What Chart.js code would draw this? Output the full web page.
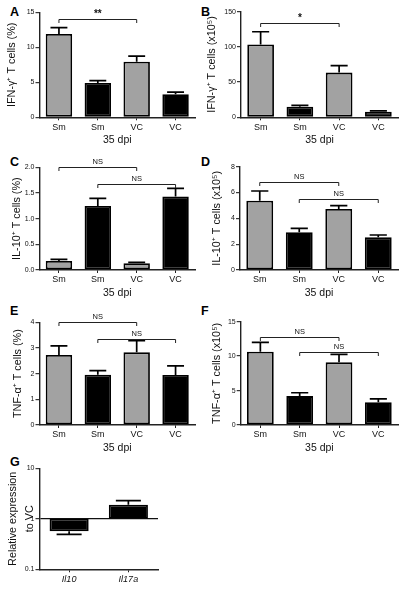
<!DOCTYPE html>
<html>
<head>
<meta charset="utf-8">
<script src="https://cdn.jsdelivr.net/npm/chart.js@4.4.0/dist/chart.umd.min.js"></script>
<style>
    body { margin: 0; background: #fff; width: 405px; height: 592px; position: relative; overflow: hidden; font-family: 'Liberation Sans', Arial, sans-serif; }
    canvas { position: absolute; }
    .letra { position: absolute; font-weight: bold; font-size: 12.5px; line-height: 12px; color: #000; }
</style>
</head>
<body>
<div class="letra" style="left:10px;top:6px">A</div>
<div class="letra" style="left:201px;top:6px">B</div>
<div class="letra" style="left:10px;top:156px">C</div>
<div class="letra" style="left:201px;top:156px">D</div>
<div class="letra" style="left:10px;top:305px">E</div>
<div class="letra" style="left:201px;top:305px">F</div>
<div class="letra" style="left:10px;top:456px">G</div>

<canvas id="chartA" width="200" height="152" style="left:0;top:0"></canvas>
<canvas id="chartB" width="205" height="152" style="left:200px;top:0"></canvas>
<canvas id="chartC" width="200" height="152" style="left:0;top:155px"></canvas>
<canvas id="chartD" width="205" height="152" style="left:200px;top:155px"></canvas>
<canvas id="chartE" width="200" height="152" style="left:0;top:310px"></canvas>
<canvas id="chartF" width="205" height="152" style="left:200px;top:310px"></canvas>
<canvas id="chartG" width="200" height="137" style="left:0;top:455px"></canvas>

<script>
// dados
const grupos = ['Sm', 'Sm', 'VC', 'VC'];

const ifnPct = [11.9, 4.9, 7.95, 3.3];
const ifnPctErr = [0.9, 0.35, 0.8, 0.3];
const ifnPctTicks = [0, 5, 10, 15];
const ifnPctChaves = [[0, 2, 14.05, '**']];

const ifnNum = [103.5, 15, 63.5, 8];
const ifnNumErr = [18, 2, 10, 1];
const ifnNumTicks = [0, 50, 100, 150];
const ifnNumChaves = [[0, 2, 134.4, '*']];

const il10Pct = [0.175, 1.245, 0.13, 1.43];
const il10PctErr = [0.03, 0.15, 0.02, 0.16];
const il10PctTicks = [0, 0.5, 1.0, 1.5, 2.0];
const il10PctChaves = [[0, 2, 2.0, 'NS'], [1, 3, 1.675, 'NS']];

const il10Num = [5.37, 2.92, 4.72, 2.53];
const il10NumErr = [0.75, 0.3, 0.26, 0.18];
const il10NumTicks = [0, 2, 4, 6, 8];
const il10NumChaves = [[0, 2, 6.84, 'NS'], [1, 3, 5.47, 'NS']];

const tnfPct = [2.73, 1.96, 2.83, 1.95];
const tnfPctErr = [0.35, 0.16, 0.46, 0.35];
const tnfPctTicks = [0, 1, 2, 3, 4];
const tnfPctChaves = [[0, 2, 4.0, 'NS'], [1, 3, 3.35, 'NS']];

const tnfNum = [10.65, 4.2, 9.1, 3.3];
const tnfNumErr = [1.35, 0.48, 1.15, 0.5];
const tnfNumTicks = [0, 5, 10, 15];
const tnfNumChaves = [[0, 2, 12.8, 'NS'], [1, 3, 10.55, 'NS']];

const genes = ['Il10', 'Il17a'];
const relExpr = [0.57, 1.9];
const relExprErr = [0.08, 0.4];
const relExprTicks = [0.1, 1, 10];

const cinza = '#a2a2a2';
const coresBarras = [cinza, '#000', cinza, '#000'];
const FONTE = "'Liberation Sans', Arial, sans-serif";

Chart.defaults.font.family = FONTE;
Chart.defaults.color = '#111';

// barras de erro e chaves de significancia
const extras = {
    id: 'extras',
    afterDatasetsDraw(chart, args, opts) {
        const ctx = chart.ctx;
        const meta = chart.getDatasetMeta(0);
        const y = chart.scales.y;
        const valores = chart.data.datasets[0].data;
        ctx.save();
        ctx.strokeStyle = '#000';
        ctx.lineWidth = 1.7;
        meta.data.forEach((bar, i) => {
            const erro = opts.erros ? opts.erros[i] : 0;
            if (!erro) return;
            let v = valores[i];
            let base = 0;
            if (Array.isArray(v)) { base = v[0]; v = v[1]; }
            const fim = v >= base ? v + erro : v - erro;
            const yv = y.getPixelForValue(v);
            const yf = y.getPixelForValue(fim);
            const meia = bar.width * 0.32;
            ctx.beginPath();
            ctx.moveTo(bar.x, yv);
            ctx.lineTo(bar.x, yf);
            ctx.moveTo(bar.x - meia, yf);
            ctx.lineTo(bar.x + meia, yf);
            ctx.stroke();
        });

        ctx.lineWidth = 1;
        ctx.strokeStyle = '#222';
        ctx.fillStyle = '#111';
        ctx.textAlign = 'center';
        ctx.textBaseline = 'bottom';
        (opts.chaves || []).forEach(([de, ate, valor, texto]) => {
            const x1 = meta.data[de].x;
            const x2 = meta.data[ate].x;
            const yy = Math.round(y.getPixelForValue(valor)) + 0.5;
            ctx.beginPath();
            ctx.moveTo(x1, yy + 3.5);
            ctx.lineTo(x1, yy);
            ctx.lineTo(x2, yy);
            ctx.lineTo(x2, yy + 3.5);
            ctx.stroke();
            ctx.font = (texto === 'NS' ? '7.5px ' : 'bold 10px ') + FONTE;
            ctx.fillText(texto, (x1 + x2) / 2, yy - (texto === 'NS' ? 1.5 : 0));
        });
        ctx.restore();
    }
};

function criarGrafico(id, box, area, cfg) {
    const yLarg = area.l - box.x;
    const xAlt = box.y + box.h - area.b;
    const t = cfg.ticks;
    return new Chart(document.getElementById(id), {
        type: 'bar',
        data: {
            labels: cfg.labels,
            datasets: [{
                data: cfg.valores,
                backgroundColor: cfg.cores,
                borderColor: '#000',
                borderWidth: 1.8,
                borderSkipped: false,
                categoryPercentage: cfg.largura,
                barPercentage: 1
            }]
        },
        options: {
            responsive: false,
            animation: false,
            layout: { padding: { left: 0, top: area.t - box.y, right: box.x + box.w - area.r, bottom: 0 } },
            plugins: {
                legend: { display: false },
                tooltip: { enabled: false },
                extras: { erros: cfg.erros, chaves: cfg.chaves }
            },
            scales: {
                x: {
                    grid: { offset: false, drawOnChartArea: false, color: '#222', tickLength: 3 },
                    border: { color: '#222', width: 1.4 },
                    ticks: { font: { size: 9, style: cfg.italico ? 'italic' : 'normal' }, padding: 1.5, maxRotation: 0, autoSkip: false },
                    title: {
                        display: !!cfg.tituloX,
                        text: cfg.tituloX || '',
                        font: { size: 10.5 },
                        padding: { top: 0, bottom: Math.max(xAlt - 29.3, 0) }
                    },
                    afterFit: s => { s.height = xAlt; }
                },
                y: {
                    type: cfg.log ? 'logarithmic' : 'linear',
                    min: t[0],
                    max: t[t.length - 1],
                    afterBuildTicks: s => { s.ticks = t.map(v => ({ value: v })); },
                    grid: {
                        drawOnChartArea: !!cfg.log,
                        color: c => (cfg.log && c.tick && c.tick.value === 1) ? '#111' : 'rgba(0,0,0,0)',
                        lineWidth: 1.3,
                        tickColor: '#222',
                        tickWidth: 1.1,
                        tickLength: 4
                    },
                    border: { color: '#222', width: 1.4 },
                    ticks: { font: { size: 7 }, padding: 1, callback: cfg.fmt || (v => String(v)) },
                    title: {
                        display: true,
                        text: cfg.tituloY,
                        font: { size: 10.8, lineHeight: cfg.alturaLinha || 1.2 },
                        padding: { top: cfg.tituloYx - (cfg.alturaLinha || 1.2) * 10.8 / 2, bottom: 0 }
                    },
                    afterFit: s => { s.width = yLarg; }
                }
            }
        },
        plugins: [extras]
    });
}

criarGrafico('chartA', { x: 0, y: 0, w: 200, h: 152 }, { l: 39.5, r: 195, t: 12.3, b: 117.3 }, {
    labels: grupos, valores: ifnPct, erros: ifnPctErr, ticks: ifnPctTicks, chaves: ifnPctChaves,
    cores: coresBarras, largura: 0.68, tituloX: '35 dpi', tituloY: 'IFN-γ⁺ T cells (%)', tituloYx: 12.5
});
criarGrafico('chartB', { x: 200, y: 0, w: 205, h: 152 }, { l: 241, r: 398, t: 11.7, b: 117.3 }, {
    labels: grupos, valores: ifnNum, erros: ifnNumErr, ticks: ifnNumTicks, chaves: ifnNumChaves,
    cores: coresBarras, largura: 0.68, tituloX: '35 dpi', tituloY: 'IFN-γ⁺ T cells (x10⁵)', tituloYx: 12.5
});
criarGrafico('chartC', { x: 0, y: 155, w: 200, h: 152 }, { l: 39.5, r: 195, t: 167.3, b: 270 }, {
    labels: grupos, valores: il10Pct, erros: il10PctErr, ticks: il10PctTicks, chaves: il10PctChaves,
    cores: coresBarras, largura: 0.68, tituloX: '35 dpi', tituloY: 'IL-10⁺ T cells (%)', tituloYx: 17.5,
    fmt: v => v.toFixed(1)
});
criarGrafico('chartD', { x: 200, y: 155, w: 205, h: 152 }, { l: 240, r: 398, t: 166.7, b: 270 }, {
    labels: grupos, valores: il10Num, erros: il10NumErr, ticks: il10NumTicks, chaves: il10NumChaves,
    cores: coresBarras, largura: 0.68, tituloX: '35 dpi', tituloY: 'IL-10⁺ T cells (x10⁵)', tituloYx: 17.5
});
criarGrafico('chartE', { x: 0, y: 310, w: 200, h: 152 }, { l: 39.5, r: 195, t: 322.3, b: 425 }, {
    labels: grupos, valores: tnfPct, erros: tnfPctErr, ticks: tnfPctTicks, chaves: tnfPctChaves,
    cores: coresBarras, largura: 0.68, tituloX: '35 dpi', tituloY: 'TNF-α⁺ T cells (%)', tituloYx: 18
});
criarGrafico('chartF', { x: 200, y: 310, w: 205, h: 152 }, { l: 240.7, r: 398, t: 321.7, b: 425 }, {
    labels: grupos, valores: tnfNum, erros: tnfNumErr, ticks: tnfNumTicks, chaves: tnfNumChaves,
    cores: coresBarras, largura: 0.68, tituloX: '35 dpi', tituloY: 'TNF-α⁺ T cells (x10⁵)', tituloYx: 17.5
});
criarGrafico('chartG', { x: 0, y: 455, w: 200, h: 137 }, { l: 39.5, r: 158, t: 468.3, b: 569.3 }, {
    labels: genes, valores: relExpr.map(v => [1, v]), erros: relExprErr, ticks: relExprTicks,
    cores: ['#000', '#000'], largura: 0.66, italico: true, log: true,
    tituloY: ['Relative expression', 'to VC'], tituloYx: 13, alturaLinha: 1.6
});
</script>
</body>
</html>
